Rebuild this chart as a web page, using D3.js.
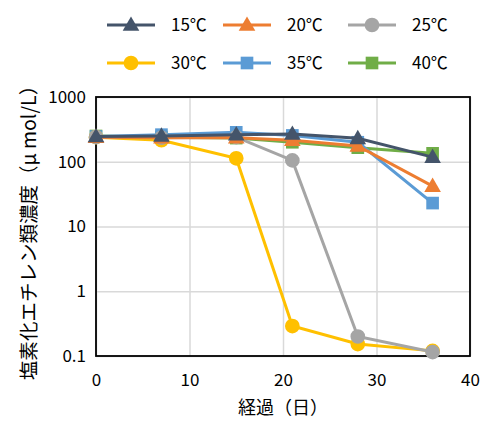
<!DOCTYPE html>
<html>
<head>
<meta charset="utf-8">
<script src="https://cdn.jsdelivr.net/npm/d3@7"></script>
<style>
  body { margin: 0; background: #fff; }
  text { font-family: "Noto Sans CJK JP", "Noto Sans", sans-serif; fill: #000; }
</style>
</head>
<body>
<div class="chart"></div>
<script>
// days sampled
var days = [0, 7, 15, 21, 28, 36];
var seriesNames = ["15℃", "20℃", "25℃", "30℃", "35℃", "40℃"];
var c15 = [245, 250, 262, 268, 230, 118];
var c20 = [240, 235, 235, 215, 175, 42];
var c25 = [240, 235, 240, 105, 0.2, 0.115];
var c30 = [240, 215, 113, 0.29, 0.153, 0.12];
var c35 = [245, 262, 285, 255, 200, 23];
var c40 = [250, 240, 232, 200, 165, 135];
var yTicks = [0.1, 1, 10, 100, 1000];
var xTicks = [0, 10, 20, 30, 40];

var colors = ["#44546A", "#ED7D31", "#A5A5A5", "#FFC000", "#5B9BD5", "#70AD47"];
var shapes = ["triangle", "triangle", "circle", "circle", "square", "square"];
var values = [c15, c20, c25, c30, c35, c40];

var svgWidth = 494, svgHeight = 421;
var margin = { top: 97, left: 96, right: 24, bottom: 65 };
var width = 470 - margin.left;
var height = 356 - margin.top;

var svg = d3.select(".chart").append("svg")
  .attr("width", svgWidth)
  .attr("height", svgHeight);

var chartGroup = svg.append("g")
  .attr("transform", `translate(${margin.left}, ${margin.top})`);

var x = d3.scaleLinear().domain([0, 40]).range([0, width]);
var y = d3.scaleLog().domain([0.1, 1000]).range([height, 0]);

// gridlines
chartGroup.append("g")
  .call(d3.axisLeft(y).tickValues(yTicks).tickSize(-width).tickFormat(""))
  .call(g => g.select(".domain").remove())
  .selectAll("line").attr("stroke", "#d9d9d9").attr("stroke-width", 1.5);
chartGroup.append("g")
  .attr("transform", `translate(0, ${height})`)
  .call(d3.axisBottom(x).tickValues(xTicks).tickSize(-height).tickFormat(""))
  .call(g => g.select(".domain").remove())
  .selectAll("line").attr("stroke", "#d9d9d9").attr("stroke-width", 1.5);

// plot frame
chartGroup.append("rect")
  .attr("width", width).attr("height", height)
  .attr("fill", "none").attr("stroke", "#000").attr("stroke-width", 1.8);

// tick labels
var yAxis = chartGroup.append("g")
  .call(d3.axisLeft(y).tickValues(yTicks).tickSize(0).tickPadding(10).tickFormat(d => String(d)));
yAxis.select(".domain").remove();
yAxis.selectAll("text").attr("font-size", 17).attr("font-family", "Liberation Sans, Arial, sans-serif");

var xAxis = chartGroup.append("g")
  .attr("transform", `translate(0, ${height})`)
  .call(d3.axisBottom(x).tickValues(xTicks).tickSize(0).tickPadding(18));
xAxis.select(".domain").remove();
xAxis.selectAll("text").attr("font-size", 17).attr("font-family", "Liberation Sans, Arial, sans-serif");

function symbolFor(shape) {
  if (shape === "triangle") return d3.symbol().type(d3.symbolTriangle).size(120)();
  if (shape === "square") return d3.symbol().type(d3.symbolSquare).size(160)();
  return d3.symbol().type(d3.symbolCircle).size(170)();
}

var line = d3.line().x((d, i) => x(days[i])).y(d => y(d));

// draw later series first so 15℃ ends up on top
for (var s = values.length - 1; s >= 0; s--) {
  var g = chartGroup.append("g");
  g.append("path")
    .attr("d", line(values[s]))
    .attr("fill", "none")
    .attr("stroke", colors[s])
    .attr("stroke-width", 3);
  g.selectAll("path.mk")
    .data(values[s])
    .enter()
    .append("path")
    .attr("class", "mk")
    .attr("d", symbolFor(shapes[s]))
    .attr("transform", (d, i) => `translate(${x(days[i])}, ${y(d) + (shapes[s] === "triangle" ? 1 : 0)})`)
    .attr("fill", colors[s]);
}

// axis titles
svg.append("text")
  .attr("transform", "translate(283, 414)")
  .attr("text-anchor", "middle")
  .attr("font-size", 18)
  .text("経過（日）");

svg.append("text")
  .attr("transform", "translate(36, 228) rotate(-90)")
  .attr("text-anchor", "middle")
  .attr("font-size", 19.5)
  .text("塩素化エチレン類濃度（μ mol/L）");

// legend
var legendX = [107, 223, 348];
var legendY = [25, 63];
seriesNames.forEach(function(name, i) {
  var lx = legendX[i % 3], ly = legendY[Math.floor(i / 3)];
  var lg = svg.append("g").attr("transform", `translate(${lx}, ${ly})`);
  lg.append("line")
    .attr("x1", 0).attr("x2", 48)
    .attr("stroke", colors[i]).attr("stroke-width", 3);
  lg.append("path")
    .attr("d", symbolFor(shapes[i]))
    .attr("transform", `translate(24, ${shapes[i] === "triangle" ? 1 : 0})`)
    .attr("fill", colors[i]);
  lg.append("text")
    .attr("x", 64).attr("dy", "0.36em")
    .attr("font-size", 17)
    .attr("font-family", "Liberation Sans, Noto Sans CJK JP, sans-serif")
    .text(name);
});
</script>
</body>
</html>
